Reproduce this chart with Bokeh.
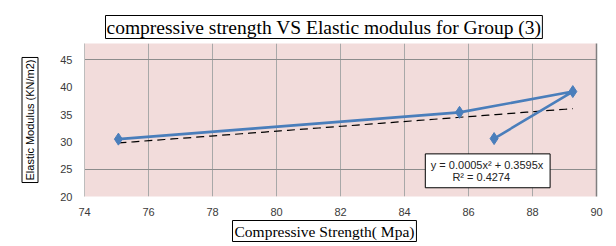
import numpy as np
from bokeh.plotting import figure
from bokeh.models import Range1d, FixedTicker, LinearAxis, Label, BoxAnnotation, Title
from bokeh.embed import file_html
from bokeh.resources import INLINE

# ---- data ----
strength = [75.06, 85.72, 89.26, 86.8]      # Compressive Strength (MPa)
modulus = [30.5, 35.4, 39.2, 30.6]          # Elastic Modulus (KN/m2)
trend_a = 0.0005                             # y = a x^2 + b x
trend_b = 0.3595
trend_r2 = "0.4274"
x_ticks = [74, 76, 78, 80, 82, 84, 86, 88, 90]
y_ticks = [20, 25, 30, 35, 40, 45]
y_grid = [25, 45]

title_text = "compressive strength VS Elastic modulus for Group (3)"
x_label = "Compressive Strength( Mpa)"
y_label = "Elastic Modulus (KN/m2)"

p = figure(width=616, height=246, output_backend="svg", toolbar_location=None,
           x_range=Range1d(74, 90), y_range=Range1d(20, 48),
           min_border_left=84, min_border_right=20, min_border_top=43,
           min_border_bottom=50)
p.background_fill_color = "#F2DCDB"
p.border_fill_color = "white"
p.outline_line_color = None

# title (boxed)
p.title.text = title_text
p.title.text_font = "Liberation Serif"
p.title.text_font_size = "19.5px"
p.title.text_font_style = "normal"
p.title.text_color = "black"
p.title.align = "left"
p.title.offset = 21
p.title.standoff = 10
p.title.padding = 1
p.title.border_line_color = "black"
p.title.border_line_width = 1

# axes
for ax in (p.xaxis[0], p.yaxis[0]):
    ax.major_tick_line_color = None
    ax.minor_tick_line_color = None
    ax.major_tick_in = 0
    ax.major_tick_out = 0
    ax.minor_tick_in = 0
    ax.minor_tick_out = 0
    ax.major_label_text_font = "Liberation Sans"
    ax.major_label_text_font_size = "11px"
    ax.major_label_text_color = "#3a3a3a"
p.xaxis.ticker = FixedTicker(ticks=x_ticks)
p.yaxis.ticker = FixedTicker(ticks=y_ticks)
p.xaxis.axis_line_color = None
p.yaxis.axis_line_color = "#BDBDBD"
p.xaxis.major_label_standoff = 11
p.yaxis.major_label_standoff = 12

right_ax = LinearAxis(ticker=FixedTicker(ticks=[]), axis_line_color="#7F7F7F",
                      axis_line_width=1.5, major_tick_line_color=None,
                      minor_tick_line_color=None, major_label_text_font_size="0px")
p.add_layout(right_ax, "right")

# axis titles (boxed)
p.add_layout(Title(text=x_label, text_font="Liberation Serif", text_font_size="15.5px",
                   text_font_style="normal", text_color="black", align="left",
                   offset=148, standoff=0, padding=2, border_line_color="black",
                   border_line_width=1), "below")
p.add_layout(Title(text=y_label, text_font="Liberation Sans", text_font_size="11px",
                   text_font_style="normal", text_color="black", align="center",
                   standoff=39, padding=2, border_line_color="black",
                   border_line_width=1), "left")

p.xgrid.ticker = FixedTicker(ticks=x_ticks)
p.ygrid.ticker = FixedTicker(ticks=y_grid)
p.xgrid.grid_line_color = "#A8A8A8"
p.ygrid.grid_line_color = "#8C8C8C"

# trendline (polynomial given on the chart)
tx = np.linspace(min(strength), max(strength), 60)
ty = trend_a * tx ** 2 + trend_b * tx
p.line(tx, ty, line_color="black", line_width=1.2, line_dash="8 5")

# series
p.line(strength, modulus, line_color="#4A7EBB", line_width=2.6)
p.scatter(strength, modulus, marker="diamond", size=12, color="#4A7EBB")

# trendline label box
p.add_layout(BoxAnnotation(left=84.65, right=88.55, bottom=21.6, top=27.8,
                           fill_color="white", fill_alpha=1, line_color="black",
                           line_width=1, line_alpha=1, level="overlay"))
eq1 = Label(x=86.58, y=25.8, text="y = 0.0005x² + 0.3595x", text_align="center",
            text_baseline="middle", text_font="Liberation Sans",
            text_font_size="11px", text_color="#222222", level="overlay")
eq2 = Label(x=86.4, y=23.6, text="R² = " + trend_r2, text_align="center",
            text_baseline="middle", text_font="Liberation Sans",
            text_font_size="11px", text_color="#222222", level="overlay")
p.add_layout(eq1)
p.add_layout(eq2)

open("out.html", "w").write(file_html(p, INLINE))
